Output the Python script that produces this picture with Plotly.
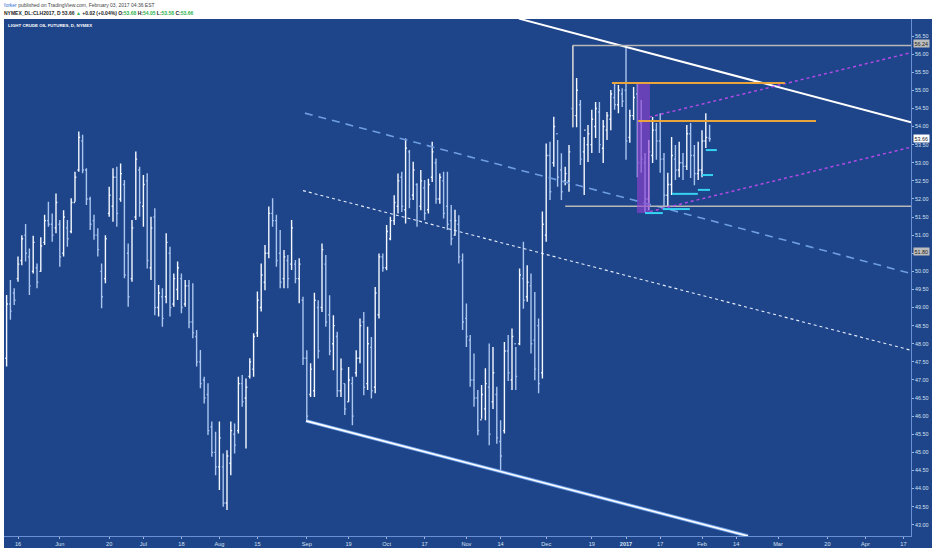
import plotly.graph_objects as go

# ---------------- data ----------------
# bar index = trading-day number counted from 2016-05-16 (index 0)
bar_index = list(range(-3, 183))

highs = [49.35, 49.76, 49.53, 50.41, 51.00, 51.31, 50.63, 50.98, 50.22, 50.94,
         51.56, 51.92, 51.60, 52.15, 51.42, 51.69, 51.42, 52.02, 52.75, 53.86,
         53.77, 52.85, 52.06, 51.56, 51.19, 50.22, 51.00, 52.34, 52.85, 52.89,
         52.98, 52.52, 50.77, 51.42, 53.31, 52.89, 52.66, 52.71, 51.51, 51.74,
         49.62, 49.53, 51.05, 50.68, 49.94, 50.27, 49.94, 49.76, 49.76, 49.67,
         48.38, 47.83, 47.09, 46.91, 45.85, 45.57, 45.85, 44.97, 45.06, 45.85,
         45.80, 47.09, 47.14, 47.04, 47.60, 48.29, 49.44, 50.22, 50.73, 51.79,
         52.02, 51.56, 51.14, 50.59, 50.45, 51.42, 50.31, 50.36,
         49.30, 47.82, 47.46, 49.41, 49.20, 50.77, 50.45, 49.34, 48.79, 48.33,
         47.59, 46.90, 47.36, 47.09, 47.82, 48.70, 48.88, 48.47, 48.19, 49.57,
         50.49, 50.49, 51.28, 51.51, 52.10, 52.70, 52.75, 53.67, 53.35, 53.03,
         52.43, 52.80, 52.52, 52.56, 53.58, 53.12, 52.70, 52.75, 52.75, 51.83,
         51.70, 51.55, 50.49, 49.11, 48.24, 47.73, 46.72, 46.86, 47.32, 48.01,
         47.91, 46.81, 45.89, 48.05, 48.24, 48.42, 47.91, 50.08, 50.82, 50.17,
         49.94, 49.43, 48.70, 51.65, 53.53, 53.58, 54.27, 53.63, 53.26, 52.89,
         53.49, 56.24, 55.34, 54.73, 53.71, 54.04, 54.46, 54.68, 54.68, 54.18,
         54.40, 55.01, 55.20, 55.15, 55.06, 56.20, 54.46, 55.09, 55.23, 54.73,
         53.27, 53.63, 54.26, 54.10, 54.37, 53.27, 52.72, 53.71, 53.49, 53.58,
         53.27, 54.04, 54.10, 53.49, 53.58, 53.90, 54.37, 54.05]

lows = [47.37, 48.66, 49.07, 49.71, 50.17, 50.27, 49.35, 49.94, 49.53, 49.99,
        50.73, 51.23, 50.82, 51.05, 50.13, 50.41, 50.68, 51.05, 51.92, 52.75,
        52.71, 51.83, 51.14, 50.87, 50.41, 48.98, 49.67, 51.51, 51.37, 51.23,
        51.92, 49.81, 49.02, 49.71, 51.42, 51.51, 51.23, 50.08, 49.76, 48.79,
        48.75, 48.47, 49.12, 48.75, 49.02, 49.21, 48.84, 49.02, 48.43, 48.15,
        47.37, 46.77, 46.35, 45.48, 44.88, 44.37, 43.96, 43.50, 43.41, 44.37,
        44.97, 45.52, 46.26, 45.11, 47.04, 47.09, 48.19, 48.89, 49.48, 50.36,
        51.23, 50.13, 49.53, 49.53, 49.53, 50.04, 49.67, 49.12,
        47.41, 45.89, 46.53, 46.53, 47.59, 48.88, 48.47, 47.68, 47.27, 46.53,
        46.53, 46.03, 46.40, 45.75, 47.09, 47.46, 46.58, 46.72, 46.49, 46.63,
        48.70, 49.99, 50.03, 50.86, 51.28, 51.60, 51.64, 51.32, 51.74, 51.97,
        51.23, 51.69, 51.41, 51.60, 52.47, 51.87, 51.87, 51.46, 51.14, 50.72,
        50.98, 50.22, 48.38, 47.91, 46.81, 46.26, 45.47, 45.93, 45.89, 45.20,
        46.20, 45.24, 44.51, 45.52, 46.97, 46.72, 46.72, 47.96, 48.97, 49.16,
        47.73, 46.99, 46.63, 47.04, 50.82, 51.97, 52.89, 52.34, 51.97, 52.38,
        52.20, 53.98, 53.98, 52.94, 52.11, 53.02, 53.27, 53.68, 53.27, 52.99,
        53.63, 53.90, 54.46, 54.37, 54.54, 53.08, 53.55, 54.18, 52.60, 52.72,
        51.64, 51.69, 52.99, 53.08, 52.72, 51.78, 51.78, 52.11, 52.52, 52.60,
        52.52, 52.80, 52.58, 52.38, 52.52, 52.60, 53.41, 53.58]

opens = [47.60, 49.10, 49.40, 49.80, 50.30, 51.00, 50.40, 50.00, 50.10, 50.00,
         50.80, 51.40, 51.30, 51.20, 51.30, 50.50, 51.20, 51.10, 51.90, 52.80,
         53.60, 52.80, 52.00, 51.40, 51.00, 50.00, 49.80, 51.60, 51.80, 52.60,
         52.00, 52.40, 50.50, 49.80, 51.50, 52.80, 51.80, 52.50, 50.10, 51.50,
         49.00, 49.30, 49.30, 50.50, 49.10, 49.50, 49.80, 49.10, 49.60, 48.60,
         48.20, 47.50, 47.00, 46.60, 45.70, 45.00, 44.60, 44.60, 43.60, 44.70,
         45.50, 45.60, 46.90, 46.50, 47.10, 47.30, 48.30, 49.00, 49.70, 50.50,
         51.60, 51.40, 50.50, 49.80, 50.30, 50.20, 50.20, 49.80,
         49.20, 47.60, 46.60, 46.70, 49.00, 49.00, 50.20, 48.80, 48.00, 48.20,
         46.70, 46.90, 46.40, 46.90, 47.20, 47.60, 48.60, 46.90, 47.90, 46.80,
         48.80, 50.40, 50.10, 50.90, 51.40, 51.80, 52.60, 51.70, 53.30, 52.10,
         52.40, 51.80, 52.30, 51.70, 52.60, 53.00, 52.00, 52.50, 51.80, 51.40,
         51.00, 51.30, 50.30, 48.70, 48.10, 47.00, 46.50, 45.90, 46.20, 46.80,
         46.40, 46.60, 45.30, 45.60, 47.80, 47.00, 48.00, 48.00, 49.80, 49.30,
         49.60, 48.10, 48.50, 47.20, 51.00, 53.20, 53.00, 53.80, 52.80, 52.50,
         52.50, 54.50, 54.30, 54.60, 53.30, 53.50, 53.50, 54.00, 54.40, 53.40,
         53.90, 54.20, 54.80, 54.60, 54.90, 55.00, 53.70, 54.30, 54.90, 54.10,
         53.00, 52.00, 53.20, 53.90, 53.60, 53.10, 52.10, 52.40, 53.10, 52.80,
         53.00, 52.90, 53.80, 53.20, 52.70, 52.80, 53.60, 53.68]

closes = [49.10, 48.90, 49.20, 50.20, 50.90, 50.50, 49.60, 50.80, 49.70, 50.70,
          51.40, 51.30, 51.00, 51.90, 50.40, 51.50, 50.90, 51.90, 52.60, 53.70,
          52.80, 52.00, 51.30, 51.00, 50.60, 49.30, 50.90, 52.10, 52.60, 51.60,
          52.70, 49.90, 49.30, 51.20, 53.10, 51.90, 52.40, 50.30, 51.20, 49.00,
          49.40, 48.70, 50.80, 49.00, 49.80, 50.10, 49.00, 49.60, 48.60, 48.30,
          47.50, 46.90, 46.50, 45.60, 45.00, 44.60, 45.40, 43.60, 44.90, 45.60,
          45.20, 46.90, 46.40, 46.80, 47.50, 48.20, 49.20, 49.90, 50.50, 51.60,
          51.40, 50.30, 49.70, 50.40, 49.80, 51.20, 49.80, 50.20,
          47.60, 46.00, 47.30, 49.20, 47.80, 50.60, 48.60, 47.80, 48.50, 46.70,
          47.30, 46.20, 47.00, 46.00, 47.60, 48.50, 46.80, 48.00, 46.70, 49.40,
          50.40, 50.10, 51.10, 51.40, 51.90, 52.50, 51.80, 53.40, 52.00, 52.80,
          51.40, 52.50, 51.60, 52.40, 53.30, 52.00, 52.60, 51.60, 51.30, 50.90,
          51.40, 50.40, 48.60, 48.20, 47.00, 46.50, 45.60, 46.60, 46.90, 45.50,
          47.20, 45.40, 44.90, 47.80, 47.20, 48.20, 47.10, 49.90, 49.20, 49.70,
          48.00, 47.30, 46.90, 51.30, 53.20, 52.20, 54.00, 52.60, 52.20, 52.70,
          53.30, 54.30, 55.00, 53.10, 53.90, 53.80, 54.20, 54.50, 53.50, 54.00,
          54.30, 54.90, 54.60, 55.00, 54.70, 53.60, 54.30, 54.80, 53.00, 53.10,
          52.00, 53.30, 53.90, 53.60, 53.10, 52.10, 52.40, 53.20, 52.80, 53.00,
          52.90, 53.80, 53.20, 52.70, 52.80, 53.60, 53.70, 53.66]

# x-axis labels (trading-day index -> label)
x_tick_index = [0, 11, 24, 33, 43, 53, 63, 76, 87, 97, 107, 118, 127, 139,
                151, 160, 169, 180, 189, 200, 213, 223, 233]
x_tick_text = ["16", "Jun", "20", "Jul", "18", "Aug", "15", "Sep", "19", "Oct",
               "17", "Nov", "14", "Dec", "19", "<b>2017</b>", "17", "Feb", "14",
               "Mar", "20", "Apr", "17"]

price_ticks = [43.0 + 0.5 * k for k in range(28)]

# drawings (bar index, price)
upper_trend = [(131.8, 56.98), (235.0, 54.12)]
lower_trend = [(75.8, 45.87), (192.1, 42.69)]
long_dash = [(75.5, 54.37), (235.0, 49.94)]
short_dash = [(75.0, 52.23), (235.0, 47.82)]
box_top = [(146.0, 56.24), (235.0, 56.24)]
box_left = [(146.0, 56.24), (146.0, 53.98)]
box_bottom = [(144.0, 51.80), (235.0, 51.80)]
orange_upper = [(156.3, 55.20), (201.8, 55.20)]
orange_lower = [(163.2, 54.15), (210.0, 54.15)]
purple_zone = [(162.9, 55.20), (166.3, 51.61)]
purple_dot_upper = [(166.1, 54.26), (235.0, 56.04)]
purple_dot_lower = [(166.3, 51.65), (235.0, 53.43)]
cyan_marks = [((165.0, 169.7), 51.61), ((169.7, 176.8), 51.72),
              ((172.1, 178.9), 52.14), ((178.9, 182.1), 52.25),
              ((180.0, 182.9), 52.66), ((181.0, 183.9), 53.35)]

# ---------------- figure ----------------
BLUE = "#1e4589"
W, H = 932, 550
ML, MR, MT, MB = 4, 21, 19, 14
PW, PH = W - ML - MR, H - MT - MB

def px_x(p):
    return (p - ML) / PW

def px_y(p):
    return (H - MB - p) / PH

fig = go.Figure()
fig.add_trace(go.Ohlc(
    x=bar_index, open=opens, high=highs, low=lows, close=closes,
    increasing=dict(line=dict(color="#f4f8ff", width=1.4)),
    decreasing=dict(line=dict(color="#a9c5f0", width=1.4)),
    tickwidth=0.35, hoverinfo="skip", showlegend=False))

shapes = []
# blue chart panel (beyond the plotting area)
shapes.append(dict(type="rect", xref="paper", yref="paper", x0=0, x1=px_x(W),
                   y0=px_y(548), y1=1, fillcolor=BLUE, line=dict(width=0),
                   layer="below"))

def seg(pts, color, width, dash="solid", layer="above"):
    (xa, ya), (xb, yb) = pts
    shapes.append(dict(type="line", xref="x", yref="y", x0=xa, y0=ya, x1=xb,
                       y1=yb, line=dict(color=color, width=width, dash=dash),
                       layer=layer))

seg(long_dash, "#6e9de2", 1.6, "8px,6px")
seg(short_dash, "#e6eeff", 1.1, "3px,3px")
seg(lower_trend, "#6f9fe6", 3.5)
seg(lower_trend, "#ffffff", 1.6)
seg(upper_trend, "#ffffff", 2.0)
seg(box_top, "#b8b8b8", 1.6)
seg(box_left, "#c8c8c8", 1.4)
seg(box_bottom, "#b8b8b8", 1.6)
seg(purple_dot_upper, "#b24ae6", 1.5, "dot")
seg(purple_dot_lower, "#b24ae6", 1.5, "dot")
(zx0, zy0), (zx1, zy1) = purple_zone
shapes.append(dict(type="rect", xref="x", yref="y", x0=zx0, x1=zx1, y0=zy1,
                   y1=zy0, fillcolor="#9440d4", opacity=0.62,
                   line=dict(width=0), layer="above"))
seg(orange_upper, "#e9a43c", 2.0)
seg(orange_lower, "#e9a43c", 2.0)
for (xa, xb), yv in cyan_marks:
    seg(((xa, yv), (xb, yv)), "#35d3f3", 2.0)

annotations = []
FONT = "Liberation Sans"
annotations.append(dict(
    xref="paper", yref="paper", x=px_x(2), y=px_y(5), xanchor="left",
    yanchor="middle", showarrow=False,
    text="<span style='color:#2f6fd6'>forker</span> published on TradingView.com, February 03, 2017 04:36 EST",
    font=dict(family=FONT, size=5.0, color="#444444")))
annotations.append(dict(
    xref="paper", yref="paper", x=px_x(2), y=px_y(13), xanchor="left",
    yanchor="middle", showarrow=False,
    text=("<b>NYMEX_DL:CLH2017, D 53.66 <span style='color:#2bb24c'>▲</span> +0.02 (+0.04%) "
          "O:<span style='color:#2bb24c'>53.68</span> H:<span style='color:#2bb24c'>54.05</span> "
          "L:<span style='color:#2bb24c'>53.58</span> C:<span style='color:#2bb24c'>53.66</span></b>"),
    font=dict(family=FONT, size=5.0, color="#222222")))
annotations.append(dict(
    xref="paper", yref="paper", x=px_x(6), y=px_y(26), xanchor="left",
    yanchor="middle", showarrow=False,
    text="<b>LIGHT CRUDE OIL FUTURES, D, NYMEX</b>",
    font=dict(family=FONT, size=4.4, color="#ffffff")))

def price_label(text, py, bg, fg):
    annotations.append(dict(
        xref="paper", yref="paper", x=px_x(913), y=px_y(py), xanchor="left",
        yanchor="middle", showarrow=False, text=text, bgcolor=bg,
        borderpad=0.5, font=dict(family=FONT, size=5.4, color=fg)))

price_label("56.24", 44, "#bdbdbd", "#222222")
price_label("53.66", 138, "#ffffff", "#222222")
price_label("51.80", 252, "#bdbdbd", "#222222")

fig.update_layout(
    width=W, height=H, margin=dict(l=ML, r=MR, t=MT, b=MB),
    paper_bgcolor="#ffffff", plot_bgcolor=BLUE,
    shapes=shapes, annotations=annotations, showlegend=False,
    xaxis=dict(range=[-3.684, 235.0], tickvals=x_tick_index,
               ticktext=x_tick_text, showgrid=False, zeroline=False,
               showline=True, linecolor="#6a8fd2", linewidth=1,
               ticks="outside", ticklen=2, tickcolor="#9db6e0",
               tickfont=dict(family=FONT, size=5.6, color="#d6e0f2"),
               rangeslider=dict(visible=False), fixedrange=True),
    yaxis=dict(range=[42.69, 56.97], side="right", tickvals=price_ticks,
               tickformat=".2f", showgrid=False, zeroline=False,
               showline=True, linecolor="#6a8fd2", linewidth=1,
               ticks="outside", ticklen=2, tickcolor="#9db6e0",
               tickfont=dict(family=FONT, size=5.4, color="#d6e0f2"),
               fixedrange=True),
)

fig.write_html("out.html", config={"displayModeBar": False},
               post_script="document.body.style.margin='0';document.body.style.overflow='hidden';")
